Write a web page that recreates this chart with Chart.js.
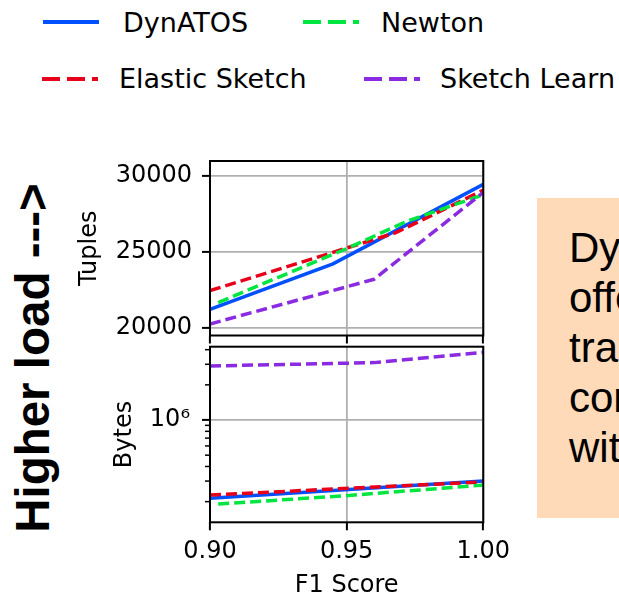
<!DOCTYPE html>
<html>
<head>
<meta charset="utf-8">
<script src="https://cdn.jsdelivr.net/npm/chart.js@4.4.0/dist/chart.umd.min.js"></script>
<style>
    html, body { margin: 0; padding: 0; width: 619px; height: 595px; overflow: hidden; background: #fff; }
    body { position: relative; font-family: "DejaVu Sans", sans-serif; color: #000; }
    .leg-line { position: absolute; }
    .leg-text { position: absolute; font-size: 27px; line-height: 30px; white-space: nowrap; }
    #load {
        position: absolute; left: 33px; top: 358px;
        font: bold 47.5px/47.5px "Liberation Sans", Arial, sans-serif;
        white-space: nowrap;
        transform: translate(-50%, -50%) rotate(-90deg);
    }
    #note {
        position: absolute; left: 537px; top: 198px; width: 160px; height: 320px;
        box-sizing: border-box; padding: 25px 0 0 32px;
        background: #ffdab9;
        font: 42px/50px "Liberation Sans", Arial, sans-serif;
        white-space: nowrap; overflow: hidden;
    }
    canvas { position: absolute; }
</style>
</head>
<body>
<div id="legend"></div>
<div id="load">Higher load ---&gt;</div>
<div id="note">DynATOS<br>offers better<br>tradeoffs<br>compared<br>with others</div>
<canvas id="tuplesChart" width="460" height="215" style="left:60px; top:130px"></canvas>
<canvas id="bytesChart" width="460" height="260" style="left:60px; top:345px"></canvas>

<script>
// tick labels
const f1Ticks = [0.90, 0.95, 1.00];
const tupleTicks = [20000, 25000, 30000];
const byteMajorTicks = [1e6];
const byteMinorTicks = [2e5, 3e5, 4e5, 5e5, 6e5, 7e5, 8e5, 9e5, 2e6, 3e6, 4e6];

// series (F1 score on x, tuples on top panel, bytes on bottom panel)
const seriesNames = ['DynATOS', 'Elastic Sketch', 'Newton', 'Sketch Learn'];
const seriesColors = ['#0050ff', '#e8001a', '#00e640', '#8a2be2'];
const seriesDashed = [false, true, true, true];

const dynF1 = [0.90, 0.945, 1.00];
const dynTuples = [21200, 24200, 29430];
const dynBytes = [2.14e5, 2.49e5, 3.0e5];

const elasticF1 = [0.90, 0.968, 1.00];
const elasticTuples = [22430, 26250, 29050];
const elasticBytes = [2.28e5, 2.72e5, 2.95e5];

const newtonF1 = [0.903, 0.95, 0.972, 1.00];
const newtonTuples = [21650, 25200, 27000, 28750];
const newtonBytes = [1.91e5, 2.25e5, 2.47e5, 2.77e5];

const learnF1 = [0.90, 0.96, 1.00];
const learnTuples = [20240, 23180, 28900];
const learnBytes = [2.9e6, 3.1e6, 3.8e6];

const seriesF1 = [dynF1, elasticF1, newtonF1, learnF1];
const seriesTuples = [dynTuples, elasticTuples, newtonTuples, learnTuples];
const seriesBytes = [dynBytes, elasticBytes, newtonBytes, learnBytes];

const gridColor = '#b0b0b0';
const tickFont = { family: 'DejaVu Sans', size: 24 };

// legend, two columns like the original
const legendPos = [
    { lx: 43, ly: 22, tx: 123, ty: 8 },
    { lx: 42, ly: 79, tx: 119, ty: 64 },
    { lx: 303, ly: 22, tx: 381, ty: 8 },
    { lx: 364, ly: 79, tx: 440, ty: 64 }
];
const legend = document.getElementById('legend');
seriesNames.forEach((name, i) => {
    const p = legendPos[i];
    const dash = seriesDashed[i] ? 'stroke-dasharray="18 7"' : '';
    legend.insertAdjacentHTML('beforeend',
        `<svg class="leg-line" width="56" height="8" style="left:${p.lx}px; top:${p.ly - 4}px">` +
        `<line x1="0" y1="4" x2="56" y2="4" stroke="${seriesColors[i]}" stroke-width="4" ${dash}/></svg>` +
        `<div class="leg-text" style="left:${p.tx}px; top:${p.ty}px">${name}</div>`);
});

// box around the plot area, plus short minor ticks on a log axis
function framePlugin(minor) {
    return {
        id: 'frame',
        afterDatasetsDraw(chart) {
            const { ctx, chartArea: a } = chart;
            ctx.save();
            ctx.strokeStyle = '#000';
            ctx.lineWidth = 1.5;
            const y = chart.scales.y;
            minor.forEach(v => {
                const p = y.getPixelForValue(v);
                ctx.beginPath();
                ctx.moveTo(a.left, p);
                ctx.lineTo(a.left - 5, p);
                ctx.stroke();
            });
            ctx.lineWidth = 2;
            ctx.strokeRect(a.left, a.top, a.right - a.left, a.bottom - a.top);
            ctx.restore();
        }
    };
}

function makeDatasets(values) {
    // first dataset is drawn on top in Chart.js, so reverse to match plot order
    return seriesNames.map((name, i) => ({
        label: name,
        data: seriesF1[i].map((x, j) => ({ x: x, y: values[i][j] })),
        borderColor: seriesColors[i],
        borderWidth: 3.5,
        borderDash: seriesDashed[i] ? [11, 5] : [],
        pointRadius: 0,
        tension: 0,
        fill: false
    })).reverse();
}

function zeroPad(s) {
    s.paddingTop = 0; s.paddingBottom = 0; s.paddingLeft = 0; s.paddingRight = 0;
}

new Chart(document.getElementById('tuplesChart').getContext('2d'), {
    type: 'line',
    data: { datasets: makeDatasets(seriesTuples) },
    options: {
        responsive: false,
        animation: false,
        layout: { padding: { left: 0, right: 36.7, top: 31, bottom: 0 } },
        plugins: { legend: { display: false }, tooltip: { enabled: false } },
        scales: {
            x: {
                type: 'linear', min: 0.9, max: 1.0,
                afterBuildTicks: s => { s.ticks = f1Ticks.map(v => ({ value: v })); },
                afterFit: s => { s.height = 9.5; zeroPad(s); },
                ticks: { display: false },
                grid: { color: gridColor, lineWidth: 1.8, tickColor: '#000', tickWidth: 2, tickLength: 8 },
                border: { display: false }
            },
            y: {
                type: 'linear', min: 19480, max: 30970,
                afterBuildTicks: s => { s.ticks = tupleTicks.map(v => ({ value: v })); },
                afterFit: s => { s.width = 150; zeroPad(s); },
                ticks: { font: tickFont, color: '#000', padding: 10, callback: v => String(v) },
                grid: { color: gridColor, lineWidth: 1.8, tickColor: '#000', tickWidth: 2, tickLength: 8 },
                border: { display: false },
                title: { display: true, text: 'Tuples', color: '#000', font: tickFont, padding: { top: 15.6, bottom: 0 } }
            }
        }
    },
    plugins: [framePlugin([])]
});

const sup = { '6': '⁶' };
new Chart(document.getElementById('bytesChart').getContext('2d'), {
    type: 'line',
    data: { datasets: makeDatasets(seriesBytes) },
    options: {
        responsive: false,
        animation: false,
        layout: { padding: { left: 0, right: 36.7, top: 1.7, bottom: 0 } },
        plugins: { legend: { display: false }, tooltip: { enabled: false } },
        scales: {
            x: {
                type: 'linear', min: 0.9, max: 1.0,
                afterBuildTicks: s => { s.ticks = f1Ticks.map(v => ({ value: v })); },
                afterFit: s => { s.height = 82.7; zeroPad(s); },
                ticks: { font: tickFont, color: '#000', padding: 7, maxRotation: 0, callback: v => v.toFixed(2) },
                grid: { color: gridColor, lineWidth: 1.8, tickColor: '#000', tickWidth: 2, tickLength: 8 },
                border: { display: false },
                title: { display: true, text: 'F1 Score', color: '#000', font: tickFont, padding: { top: 0, bottom: 5 } }
            },
            y: {
                type: 'logarithmic', min: 1.331e5, max: 4.243e6,
                afterBuildTicks: s => { s.ticks = byteMajorTicks.map(v => ({ value: v, major: true })); },
                afterFit: s => { s.width = 150; zeroPad(s); },
                ticks: {
                    font: tickFont, color: '#000', padding: 12, autoSkip: false,
                    callback: v => '10' + String(Math.round(Math.log10(v))).split('').map(d => sup[d] || d).join('')
                },
                grid: { color: gridColor, lineWidth: 1.8, tickColor: '#000', tickWidth: 2, tickLength: 8 },
                border: { display: false },
                title: { display: true, text: 'Bytes', color: '#000', font: tickFont, padding: { top: 50.6, bottom: 0 } }
            }
        }
    },
    plugins: [framePlugin(byteMinorTicks)]
});
</script>
</body>
</html>
